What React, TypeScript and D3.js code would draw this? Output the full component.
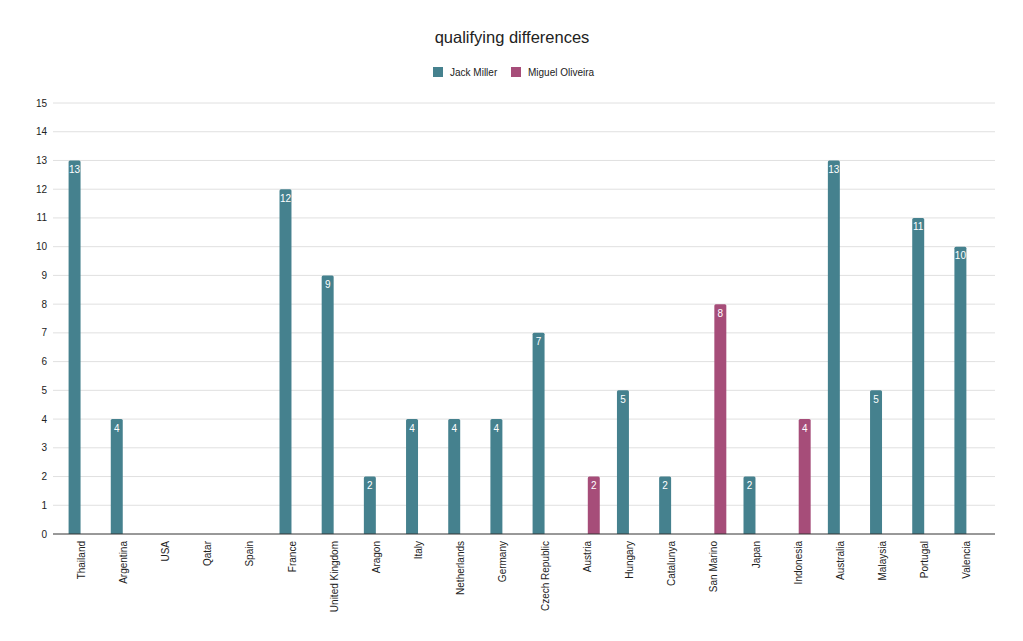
import { useEffect, useRef } from "react";
import * as d3 from "d3";

const categories = [
  "Thailand", "Argentina", "USA", "Qatar", "Spain", "France", "United Kingdom",
  "Aragon", "Italy", "Netherlands", "Germany", "Czech Republic", "Austria",
  "Hungary", "Catalunya", "San Marino", "Japan", "Indonesia", "Australia",
  "Malaysia", "Portugal", "Valencia",
];
const jackMiller = [13, 4, 0, 0, 0, 12, 9, 2, 4, 4, 4, 7, 0, 5, 2, 0, 2, 0, 13, 5, 11, 10];
const miguelOliveira = [0, 0, 0, 0, 0, 0, 0, 0, 0, 0, 0, 0, 2, 0, 0, 8, 0, 4, 0, 0, 0, 0];
const seriesNames = ["Jack Miller", "Miguel Oliveira"];
const seriesColors = ["#45818e", "#a64d79"];
const yTicks = d3.range(0, 16);

const WIDTH = 1023;
const HEIGHT = 641;
const FONT = "'Liberation Sans', Arial, sans-serif";

export default function App() {
  const svgRef = useRef<SVGSVGElement>(null);

  useEffect(() => {
    if (!svgRef.current) return;
    const svg = d3.select(svgRef.current);
    svg.selectAll("*").remove();

    const plotLeft = 53;
    const plotRight = 995;
    const top = 103;
    const bottom = 534;

    const x = d3.scaleBand().domain(categories).range([60, 988]).padding(0);
    const sub = d3
      .scaleBand()
      .domain(seriesNames)
      .range([x.bandwidth() / 2 - 12.5, x.bandwidth() / 2 + 12.5])
      .paddingInner(0.08);
    const y = d3.scaleLinear().domain([0, 15]).range([bottom, top]);

    // title
    svg
      .append("text")
      .attr("x", 512)
      .attr("y", 43)
      .attr("text-anchor", "middle")
      .attr("fill", "#222")
      .style("font-size", "16.5px")
      .style("font-family", FONT)
      .text("qualifying differences");

    // legend
    const legendX = [433, 511];
    seriesNames.forEach((name, i) => {
      const lg = svg.append("g").attr("transform", `translate(${legendX[i]},67)`);
      lg.append("rect")
        .attr("width", 10)
        .attr("height", 10)
        .attr("fill", seriesColors[i]);
      lg.append("text")
        .attr("x", 17)
        .attr("y", 9)
        .attr("fill", "#222")
        .style("font-size", "10px")
        .style("font-family", FONT)
        .text(name);
    });

    // grid
    svg
      .append("g")
      .selectAll("line")
      .data(yTicks.filter((t) => t > 0))
      .join("line")
      .attr("x1", plotLeft)
      .attr("x2", plotRight)
      .attr("y1", (d) => y(d))
      .attr("y2", (d) => y(d))
      .attr("stroke", "#e0e0e0")
      .attr("stroke-width", 1);

    // y labels
    svg
      .append("g")
      .selectAll("text")
      .data(yTicks)
      .join("text")
      .attr("x", 47)
      .attr("y", (d) => y(d))
      .attr("dy", "0.35em")
      .attr("text-anchor", "end")
      .attr("fill", "#222")
      .style("font-size", "10px")
      .style("font-family", FONT)
      .text((d) => d);

    // bars
    const series = [jackMiller, miguelOliveira];
    const r = 1.5;
    series.forEach((vals, si) => {
      const g = svg.append("g");
      categories.forEach((cat, ci) => {
        const v = vals[ci];
        if (!v) return;
        const x0 = (x(cat) ?? 0) + (sub(seriesNames[si]) ?? 0);
        const w = sub.bandwidth();
        const y0 = y(v);
        g.append("path")
          .attr(
            "d",
            `M${x0},${bottom}V${y0 + r}Q${x0},${y0} ${x0 + r},${y0}H${x0 + w - r}Q${x0 + w},${y0} ${x0 + w},${y0 + r}V${bottom}Z`
          )
          .attr("fill", seriesColors[si]);
        g.append("text")
          .attr("x", x0 + w / 2)
          .attr("y", y0 + 12.5)
          .attr("text-anchor", "middle")
          .attr("fill", "#fff")
          .style("font-size", "10px")
          .style("font-weight", "500")
          .style("font-family", FONT)
          .text(v);
      });
    });

    // baseline
    svg
      .append("line")
      .attr("x1", plotLeft)
      .attr("x2", plotRight)
      .attr("y1", bottom)
      .attr("y2", bottom)
      .attr("stroke", "#333")
      .attr("stroke-width", 1);

    // x labels
    svg
      .append("g")
      .selectAll("text")
      .data(categories)
      .join("text")
      .attr(
        "transform",
        (d) => `translate(${(x(d) ?? 0) + x.bandwidth() / 2 + 3.5},541) rotate(-90)`
      )
      .attr("text-anchor", "end")
      .attr("fill", "#222")
      .style("font-size", "10px")
      .style("font-family", FONT)
      .text((d) => d);
  }, []);

  return (
    <div style={{ position: "absolute", left: 0, top: 0, background: "#fff" }}>
      <svg ref={svgRef} width={WIDTH} height={HEIGHT} style={{ display: "block" }} />
    </div>
  );
}
